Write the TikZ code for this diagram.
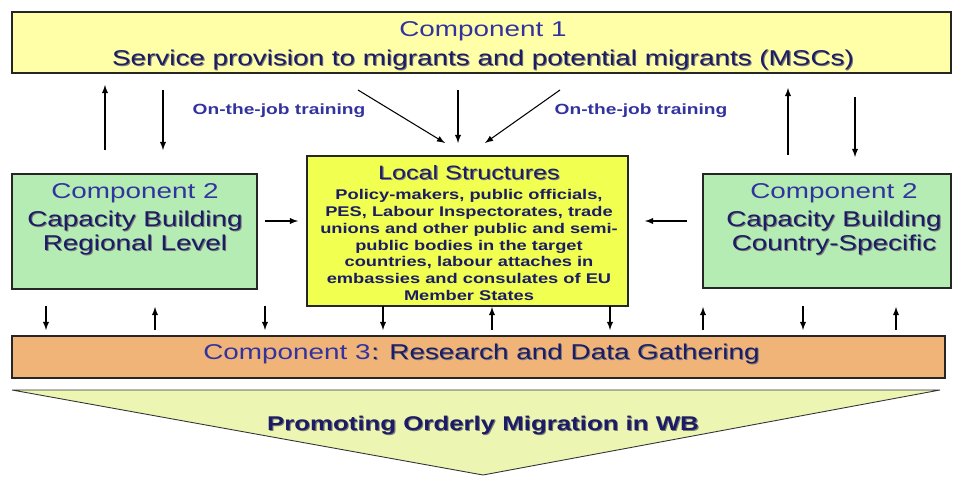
\documentclass[tikz,border=0pt]{standalone}
\usepackage{fontspec}
\setmainfont{Liberation Sans}[FakeStretch=1.3]
\definecolor{compblue}{RGB}{51,51,160}
\definecolor{navy}{RGB}{28,28,100}
\definecolor{shade}{RGB}{120,120,120}
\definecolor{paleyellow}{RGB}{255,255,168}
\definecolor{palegreen}{RGB}{180,236,180}
\definecolor{brightyellow}{RGB}{240,255,80}
\definecolor{research}{RGB}{240,180,120}
\definecolor{funnel}{RGB}{236,245,178}
\tikzstyle{compbox} = [rectangle, draw=black!85, line width=1.1pt, inner sep=0pt]
\tikzstyle{title} = [text=compblue, font=\fontsize{12.2}{14}\selectfont]
\tikzstyle{head} = [text=navy, align=center, font=\fontsize{12.2}{13.6}\selectfont]
\tikzstyle{tag} = [text=compblue, font=\bfseries\fontsize{8.4}{10}\selectfont]
\tikzstyle{link} = [->, >=latex, line width=0.6pt]
\newcommand{\shd}[1]{\leavevmode\rlap{\kern.6pt\raisebox{-.6pt}{\color{shade}#1}}#1}

\begin{document}
\begin{tikzpicture}
			\useasboundingbox (0,0) rectangle (19.06,9.52);
			% boxes
			\node [compbox, fill=paleyellow, minimum width=18.78cm, minimum height=1.22cm] (comp1) at (9.63,8.67) {};
			\node [compbox, fill=palegreen, minimum width=4.9cm, minimum height=2.3cm] (reg) at (2.69,4.89) {};
			\node [compbox, fill=brightyellow, minimum width=6.42cm, minimum height=3cm] (local) at (9.35,4.9) {};
			\node [compbox, fill=palegreen, minimum width=4.96cm, minimum height=2.28cm] (ctry) at (16.54,4.9) {};
			\node [compbox, fill=research, minimum width=18.66cm, minimum height=0.84cm] (comp3) at (9.57,2.38) {};
			\draw [fill=funnel, draw=black!80, line width=0.5pt] (0.24,1.72) -- (18.8,1.72) -- (9.66,0.02) -- cycle;

			% texts
			\node [title] (c1title) at (9.66,8.9) {Component 1};
			\node [head] (c1text) at (9.66,8.32) {\shd{Service provision to migrants and potential migrants (MSCs)}};
			\node [title] (regtitle) at (2.7,5.66) {Component 2};
			\node [head] (regtext) at (2.7,4.85) {\shd{Capacity Building}\\\shd{Regional Level}};
			\node [text=navy, font=\fontsize{11}{13}\selectfont] (loctitle) at (9.38,6.06) {\shd{Local Structures}};
			\node [text=navy, align=center, font=\bfseries\fontsize{8}{9.6}\selectfont] (loctext) at (9.38,4.62)
				{Policy-makers, public officials,\\PES, Labour Inspectorates, trade\\unions and other public and semi-\\public bodies in the target\\countries, labour attaches in\\embassies and consulates of EU\\Member States};
			\node [title] (ctrytitle) at (16.68,5.66) {Component 2};
			\node [head] (ctrytext) at (16.68,4.85) {\shd{Capacity Building}\\\shd{Country-Specific}};
			\node [title, inner xsep=0pt, anchor=east] (c3title) at (7.42,2.44) {Component 3};
			\node [head, inner xsep=0pt, anchor=base west] (c3text) at (c3title.base east) {\shd{: Research and Data Gathering}};
			\node [tag] (train1) at (5.58,7.3) {On-the-job training};
			\node [tag] (train2) at (12.82,7.3) {On-the-job training};
			\node [text=navy, font=\bfseries\fontsize{11.3}{13}\selectfont] (goal) at (9.66,1.0) {\shd{Promoting Orderly Migration in WB}};

			% arrows round component 1
			\coordinate (a1) at (2.1,6.52); \coordinate (a2) at (2.1,7.82);
			\coordinate (b1) at (3.26,7.72); \coordinate (b2) at (3.26,6.52);
			\coordinate (c1) at (7.16,7.72); \coordinate (c2) at (8.9,6.66);
			\coordinate (d1) at (9.16,7.72); \coordinate (d2) at (9.16,6.66);
			\coordinate (e1) at (11.2,7.72); \coordinate (e2) at (9.7,6.66);
			\coordinate (f1) at (15.76,6.42); \coordinate (f2) at (15.76,7.76);
			\coordinate (g1) at (17.1,7.58); \coordinate (g2) at (17.1,6.38);
			\foreach \p in {a,b,c,d,e,f,g}
				\draw [link] (\p1) -- (\p2);
			% arrows into the local structures
			\coordinate (h1) at (5.3,5.1); \coordinate (h2) at (5.96,5.1);
			\coordinate (k1) at (13.74,5.1); \coordinate (k2) at (12.9,5.1);
			\draw [link] (h1) -- (h2);
			\draw [link] (k1) -- (k2);
			% arrows to and from component 3
			\foreach \x [count=\i] in {0.92,5.3,7.66,12.2,16.06} {
				\coordinate (dn\i) at (\x,3.4); \coordinate (dm\i) at (\x,2.92);
				\draw [link] (dn\i) -- (dm\i);
			}
			\foreach \x [count=\i] in {3.1,9.84,14.06,17.92} {
				\coordinate (up\i) at (\x,2.92); \coordinate (uq\i) at (\x,3.38);
				\draw [link] (up\i) -- (uq\i);
			}
		\end{tikzpicture}
\end{document}
